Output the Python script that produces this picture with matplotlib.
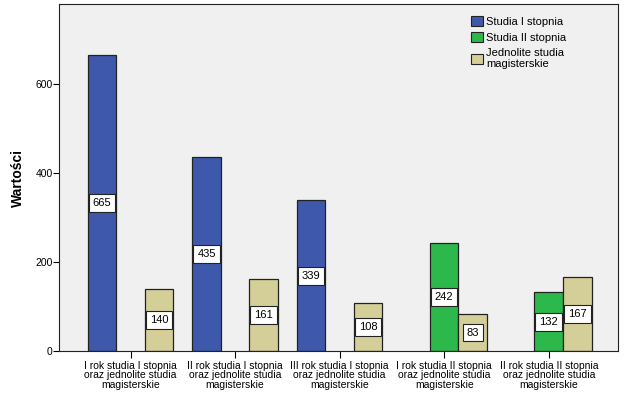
import numpy as np
import matplotlib
matplotlib.use('Agg')
import matplotlib.pyplot as plt
from matplotlib.patches import Patch

plt.rcParams['font.family'] = ['Liberation Sans', 'DejaVu Sans']

categories = ['I rok studia I stopnia\noraz jednolite studia\nmagisterskie',
              'II rok studia I stopnia\noraz jednolite studia\nmagisterskie',
              'III rok studia I stopnia\noraz jednolite studia\nmagisterskie',
              'I rok studia II stopnia\noraz jednolite studia\nmagisterskie',
              'II rok studia II stopnia\noraz jednolite studia\nmagisterskie']
series_names = ['Studia I stopnia', 'Studia II stopnia', 'Jednolite studia\nmagisterskie']
studia_1 = [665, 435, 339, None, None]
studia_2 = [None, None, None, 242, 132]
jednolite = [140, 161, 108, 83, 167]
colors = ['#3E58AC', '#2DB84B', '#D4CF98']

fig = plt.figure(figsize=(6.28, 3.98), dpi=100)
ax = fig.add_axes([0.0947, 0.118, 0.889, 0.872])
ax.set_facecolor('#F0F0F0')

x = np.arange(len(categories))
w = 0.273
for i, vals in enumerate([studia_1, studia_2, jednolite]):
    off = (i - 1) * w
    for xi, v in zip(x, vals):
        if v is None:
            continue
        ax.bar(xi + off, v, w, color=colors[i], edgecolor='#222222', linewidth=0.9, zorder=2)
        ax.text(xi + off, v / 2, str(v), ha='center', va='center', fontsize=8, zorder=3,
                bbox=dict(boxstyle='square,pad=0.35', fc='white', ec='#222222', lw=0.8))

ax.set_xlim(-0.68, 4.66)
ax.set_ylim(0, 780)
ax.set_yticks([0, 200, 400, 600])
ax.set_xticks(x)
ax.set_xticklabels(categories, fontsize=7.5, linespacing=0.95)
ax.tick_params(axis='y', labelsize=7.5, length=4, width=0.8, pad=1)
ax.tick_params(axis='x', length=5, width=0.8, pad=2)
for s in ax.spines.values():
    s.set_linewidth(0.8)
    s.set_color('#222222')
ax.set_ylabel('Wartości', fontsize=10, fontweight='bold', labelpad=7)

handles = [Patch(facecolor=c, edgecolor='#222222', linewidth=0.8) for c in colors]
ax.legend(handles, series_names, loc='upper left', bbox_to_anchor=(0.73, 0.978), frameon=False,
          fontsize=8, handlelength=1.0, handleheight=1.0, handletextpad=0.3,
          labelspacing=0.45, borderaxespad=0)

fig.savefig('out.png', dpi=100)
